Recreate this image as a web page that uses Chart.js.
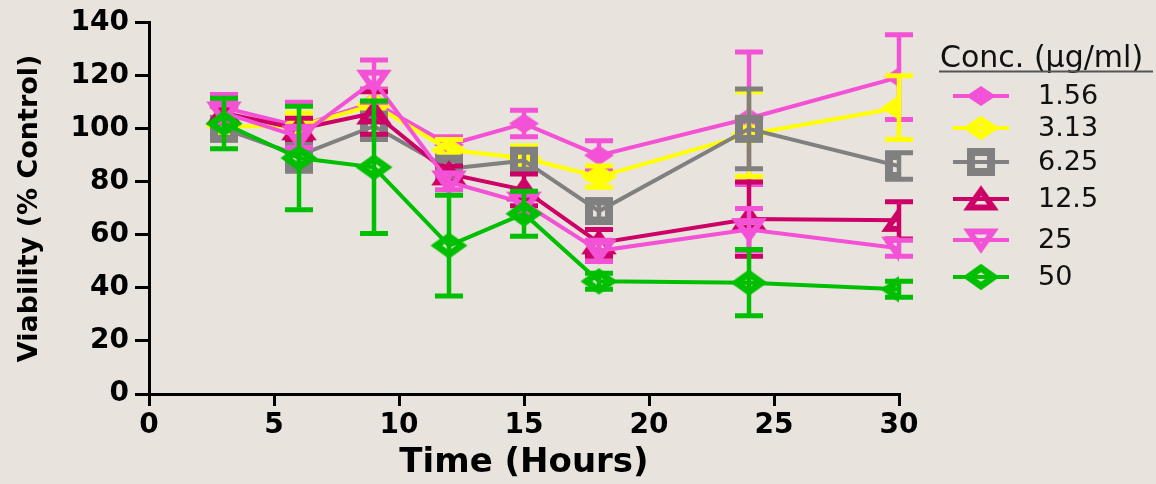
<!DOCTYPE html>
<html>
<head>
<meta charset="utf-8">
<script src="https://cdn.jsdelivr.net/npm/chart.js@4.4.0/dist/chart.umd.min.js"></script>
<style>
  html, body { margin: 0; padding: 0; background: #e8e4dd; }
  canvas { display: block; }
</style>
</head>
<body>
<canvas id="viability" width="1156" height="484"></canvas>
<script>
// time points (hours)
const times = [3, 6, 9, 12, 15, 18, 24, 30];

// mean viability (% control) and error per concentration
const conc156 = [108, 101, 110, 94, 102, 90, 104, 119.5];
const err156 = [5, 9, 5, 3, 5, 5.5, 25, 16];
const conc313 = [101, 101, 109, 92, 89, 82, 98, 108];
const err313 = [3, 5, 5, 4, 4.5, 4, 16, 12];
const conc625 = [100, 90, 101, 85, 88, 69, 100, 86];
const err625 = [4, 6, 5, 3, 4, 3, 15, 5];
const conc125 = [106, 100, 106, 83, 77, 57, 66, 65.5];
const err125 = [3, 4, 8, 3, 6, 5, 14, 7];
const conc25 = [106, 97, 118, 80, 72, 54, 62, 55];
const err25 = [4, 4, 8, 3, 4, 4, 8, 3];
const conc50 = [102, 89, 85.5, 56, 68, 42.5, 42, 39.5];
const err50 = [9.5, 19.5, 25, 19, 8.5, 3, 12.5, 3];

const concLabels = ['1.56', '3.13', '6.25', '12.5', '25', '50'];
const xTickValues = [0, 5, 10, 15, 20, 25, 30];
const yTickValues = [0, 20, 40, 60, 80, 100, 120, 140];

const legendTitle = 'Conc. (\u00b5g/ml)';
const legendRows = [96, 128, 162, 199, 240, 277];

// marker images (GraphPad style, a bit wider than tall)
function marker(shape, color, w, h, lw, filled) {
  const c = document.createElement('canvas');
  c.width = Math.ceil(w + lw * 2 + 2);
  c.height = Math.ceil(h + lw * 2 + 2);
  const g = c.getContext('2d');
  const cx = c.width / 2, cy = c.height / 2;
  g.beginPath();
  if (shape === 'diamond') {
    g.moveTo(cx, cy - h / 2);
    g.lineTo(cx + w / 2, cy);
    g.lineTo(cx, cy + h / 2);
    g.lineTo(cx - w / 2, cy);
  } else if (shape === 'square') {
    g.rect(cx - w / 2, cy - h / 2, w, h);
  } else if (shape === 'up') {
    g.moveTo(cx, cy - h / 2);
    g.lineTo(cx + w / 2, cy + h / 2);
    g.lineTo(cx - w / 2, cy + h / 2);
  } else {
    g.moveTo(cx - w / 2, cy - h / 2);
    g.lineTo(cx + w / 2, cy - h / 2);
    g.lineTo(cx, cy + h / 2);
  }
  g.closePath();
  if (filled) {
    g.fillStyle = color;
    g.fill();
  } else {
    g.strokeStyle = color;
    g.lineWidth = lw;
    g.lineJoin = 'miter';
    g.stroke();
  }
  return c;
}

const pink = '#f452d6';
const yellow = '#ffff00';
const grey = '#808080';
const crimson = '#cc0066';
const green = '#00bf00';

const series = [
  { vals: conc156, errs: err156, color: pink, pt: marker('diamond', pink, 30, 20, 0, true) },
  { vals: conc313, errs: err313, color: yellow, pt: marker('diamond', yellow, 24, 16, 7, false) },
  { vals: conc625, errs: err625, color: grey, pt: marker('square', grey, 20, 20, 8, false) },
  { vals: conc125, errs: err125, color: crimson, pt: marker('up', crimson, 24, 17, 6, false) },
  { vals: conc25, errs: err25, color: pink, pt: marker('down', pink, 24, 17, 6, false) },
  { vals: conc50, errs: err50, color: green, pt: marker('diamond', green, 25, 18, 7, false) }
];

// error bars, drawn just under each dataset so stacking follows dataset order
const errorBars = {
  id: 'errorBars',
  beforeDatasetDraw(chart, args) {
    const s = series[args.index];
    const xs = chart.scales.x, ys = chart.scales.y;
    const ctx = chart.ctx;
    ctx.save();
    ctx.strokeStyle = s.color;
    times.forEach((t, i) => {
      const x = xs.getPixelForValue(t);
      const top = ys.getPixelForValue(s.vals[i] + s.errs[i]);
      const bot = ys.getPixelForValue(s.vals[i] - s.errs[i]);
      ctx.lineWidth = 4.5;
      ctx.beginPath();
      ctx.moveTo(x, top);
      ctx.lineTo(x, bot);
      ctx.stroke();
      ctx.lineWidth = 5;
      ctx.beginPath();
      ctx.moveTo(x - 14, top);
      ctx.lineTo(x + 14, top);
      ctx.moveTo(x - 14, bot);
      ctx.lineTo(x + 14, bot);
      ctx.stroke();
    });
    ctx.restore();
  }
};

// legend with title on the right
const legendBox = {
  id: 'legendBox',
  afterDraw(chart) {
    const ctx = chart.ctx;
    ctx.save();
    ctx.textBaseline = 'middle';
    ctx.fillStyle = '#111';
    ctx.font = '30px "DejaVu Sans"';
    ctx.fillText(legendTitle, 940, 59);
    ctx.strokeStyle = '#555';
    ctx.lineWidth = 2;
    ctx.beginPath();
    ctx.moveTo(939, 71.5);
    ctx.lineTo(1153, 71.5);
    ctx.stroke();
    series.forEach((s, i) => {
      const y = legendRows[i];
      ctx.strokeStyle = s.color;
      ctx.lineWidth = 4;
      ctx.beginPath();
      ctx.moveTo(953, y);
      ctx.lineTo(1009, y);
      ctx.stroke();
      ctx.drawImage(s.pt, 981 - s.pt.width / 2, y - s.pt.height / 2);
      ctx.fillStyle = '#111';
      ctx.font = '27px "DejaVu Sans"';
      ctx.fillText(concLabels[i], 1038, y + 1);
    });
    ctx.restore();
  }
};

const tickFont = { family: 'DejaVu Sans', weight: 'bold', size: 28 };

new Chart(document.getElementById('viability'), {
  type: 'line',
  data: {
    datasets: series.map((s, i) => ({
      label: concLabels[i],
      data: times.map((t, j) => ({ x: t, y: s.vals[j] })),
      borderColor: s.color,
      borderWidth: 4,
      fill: false,
      tension: 0,
      pointStyle: s.pt,
      pointRadius: 6,
      order: series.length - 1 - i
    }))
  },
  options: {
    responsive: false,
    animation: false,
    layout: { padding: { top: 17, right: 257, bottom: 0, left: 0 } },
    plugins: {
      legend: { display: false },
      tooltip: { enabled: false }
    },
    scales: {
      x: {
        type: 'linear',
        min: 0,
        max: 30,
        afterBuildTicks: (scale) => { scale.ticks = xTickValues.map(v => ({ value: v })); },
        afterFit: (scale) => { scale.height = 90; },
        grid: { drawOnChartArea: false, color: '#000', lineWidth: 3, tickLength: 12 },
        border: { color: '#000', width: 3 },
        ticks: { font: tickFont, color: '#000', padding: 3, maxRotation: 0 },
        title: {
          display: true,
          text: 'Time (Hours)',
          color: '#000',
          font: { family: 'DejaVu Sans', weight: 'bold', size: 34 },
          padding: { top: 0, bottom: 0 }
        }
      },
      y: {
        min: 0,
        max: 140,
        afterBuildTicks: (scale) => { scale.ticks = yTickValues.map(v => ({ value: v })); },
        afterFit: (scale) => { scale.width = 149; },
        grid: { drawOnChartArea: false, color: '#000', lineWidth: 3, tickLength: 14 },
        border: { color: '#000', width: 3 },
        ticks: { font: tickFont, color: '#000', padding: 6 },
        title: {
          display: true,
          text: 'Viability (% Control)',
          color: '#000',
          font: { family: 'DejaVu Sans', weight: 'bold', size: 27 },
          padding: { top: 14, bottom: 0 }
        }
      }
    }
  },
  plugins: [errorBars, legendBox]
});
</script>
</body>
</html>
